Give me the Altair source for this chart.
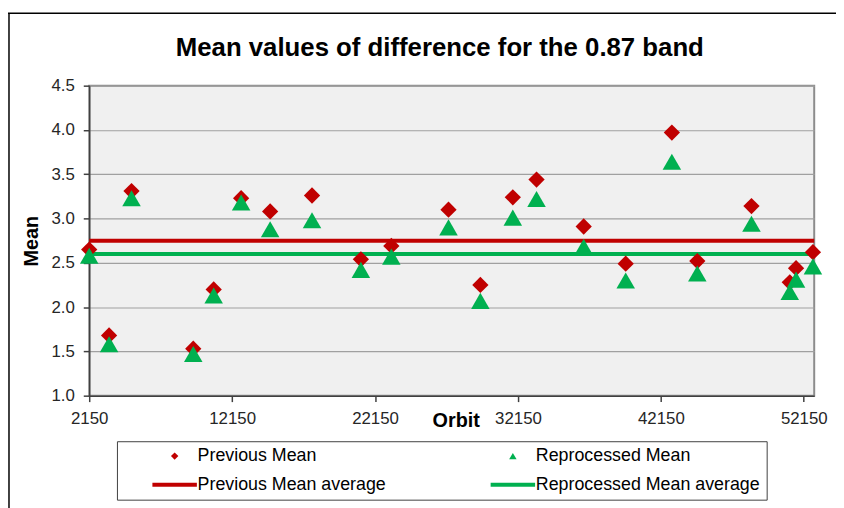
import altair as alt
import pandas as pd

# ---------------- data ----------------
orbit = [2150, 3540, 5110, 9430, 10860, 12780, 14810, 17740, 21160, 23290, 27290,
         29520, 31790, 33450, 36750, 39690, 42920, 44700, 48490, 51170, 51610, 52790]
previous_mean = [2.65, 1.68, 3.31, 1.53, 2.20, 3.23, 3.08, 3.26, 2.54, 2.69, 3.10,
                 2.25, 3.24, 3.44, 2.91, 2.49, 3.97, 2.52, 3.14, 2.28, 2.44, 2.62]
reprocessed_mean = [2.58, 1.58, 3.23, 1.47, 2.13, 3.18, 2.88, 2.98, 2.42, 2.57, 2.90,
                    2.07, 3.01, 3.22, 2.68, 2.30, 3.64, 2.38, 2.94, 2.17, 2.31, 2.46]
series_names = ["Previous Mean", "Previous Mean average",
                "Reprocessed Mean", "Reprocessed Mean average"]
average_series = ["Previous Mean average", "Reprocessed Mean average"]
average_values = [2.75, 2.60]
x_ticks = [2150, 12150, 22150, 32150, 42150, 52150]
y_ticks = [1.0, 1.5, 2.0, 2.5, 3.0, 3.5, 4.0, 4.5]
x_domain = [2150, 52880]
y_domain = [1.0, 4.5]

# ---------------- styles ----------------
RED = "#C00000"
GREEN = "#00B050"
FONT = "Liberation Sans"
LINE_PATH = "M-6,-0.55H6V0.55H-6Z"

prev_df = pd.DataFrame({"orbit": orbit, "mean": previous_mean, "series": "Previous Mean"})
repro_df = pd.DataFrame({"orbit": orbit, "mean": reprocessed_mean, "series": "Reprocessed Mean"})
avg_df = pd.DataFrame({"mean": average_values, "series": average_series})

fill_scale = alt.Scale(domain=series_names, range=[RED, RED, GREEN, GREEN])
shape_scale = alt.Scale(domain=series_names,
                        range=["diamond", LINE_PATH, "triangle-up", LINE_PATH])

legend = alt.Legend(
    title=" ", titleOrient="left", titlePadding=24.5, titleFontSize=1,
    orient="none", legendX=28, legendY=359,
    columns=2, columnPadding=99.5, rowPadding=11,
    padding=6, fillColor="white", strokeColor="#404040",
    labelFont=FONT, labelFontSize=18, labelColor="black", labelLimit=500,
    labelExpr="datum.label + '" + "\u00a0" * 7 + "'",
    symbolSize=56, symbolOffset=18.75, labelOffset=14.2, symbolStrokeWidth=0,
)

x_enc = alt.X("orbit:Q", scale=alt.Scale(domain=x_domain, nice=False, zero=False),
              axis=alt.Axis(values=x_ticks, format="d", title="Orbit", grid=False,
                            titleX=370, titleY=25, titleBaseline="middle",
                            titleAlign="center", labelPadding=9, labelFlush=False))
y_enc = alt.Y("mean:Q", scale=alt.Scale(domain=y_domain, nice=False, zero=False),
              axis=alt.Axis(values=y_ticks, format=".1f", title="Mean", grid=True,
                            gridColor="#A0A0A0", gridWidth=1.2, labelPadding=9,
                            labelFlush=False,
                            titleX=-58, titleY=156.5, titleAngle=270,
                            titleBaseline="middle", titleAlign="center"))

avg_lines = alt.Chart(avg_df).mark_rule(strokeWidth=4).encode(
    y=y_enc,
    color=alt.Color("series:N", scale=alt.Scale(domain=average_series, range=[RED, GREEN]),
                    legend=None),
)

diamonds = alt.Chart(prev_df).mark_point(filled=True, opacity=1, size=270, strokeWidth=0).encode(
    x=x_enc, y=y_enc,
    fill=alt.Fill("series:N", scale=fill_scale, legend=legend),
    shape=alt.Shape("series:N", scale=shape_scale, legend=legend),
)

triangles = alt.Chart(repro_df).mark_point(filled=True, opacity=1, size=350, strokeWidth=0).encode(
    x=x_enc, y=y_enc,
    fill=alt.Fill("series:N", scale=fill_scale, legend=legend),
    shape=alt.Shape("series:N", scale=shape_scale, legend=legend),
)

frame_top = alt.Chart(alt.Data(values=[{}])).mark_rule(color="black", strokeWidth=1.5).encode(
    x=alt.value(-82), x2=alt.value(760), y=alt.value(-73))
frame_left = alt.Chart(alt.Data(values=[{}])).mark_rule(color="black", strokeWidth=1.5).encode(
    x=alt.value(-81), y=alt.value(-73), y2=alt.value(430))

chart = alt.layer(avg_lines, diamonds, triangles, frame_top, frame_left).properties(
    width=732, height=313,
    autosize="none",
    padding={"left": 82, "top": 76, "right": 22, "bottom": 111},
    title=alt.TitleParams("Mean values of difference for the 0.87 band", font=FONT,
                          fontSize=26, fontWeight="bold", color="black",
                          anchor="middle", frame="group", offset=0, dy=48.5, dx=-12),
).configure_view(
    fill="#F0F0F0", stroke="#8C8C8C", strokeWidth=2
).configure_axis(
    labelFont=FONT, labelFontSize=17, labelColor="#262626",
    domainColor="#404040", domainWidth=1.5,
    tickColor="#404040", tickWidth=1.5, tickSize=6,
    titleFont=FONT, titleFontSize=20, titleFontWeight="bold", titleColor="black",
)

chart.save("out.html", embed_options={"renderer": "svg", "actions": False})
